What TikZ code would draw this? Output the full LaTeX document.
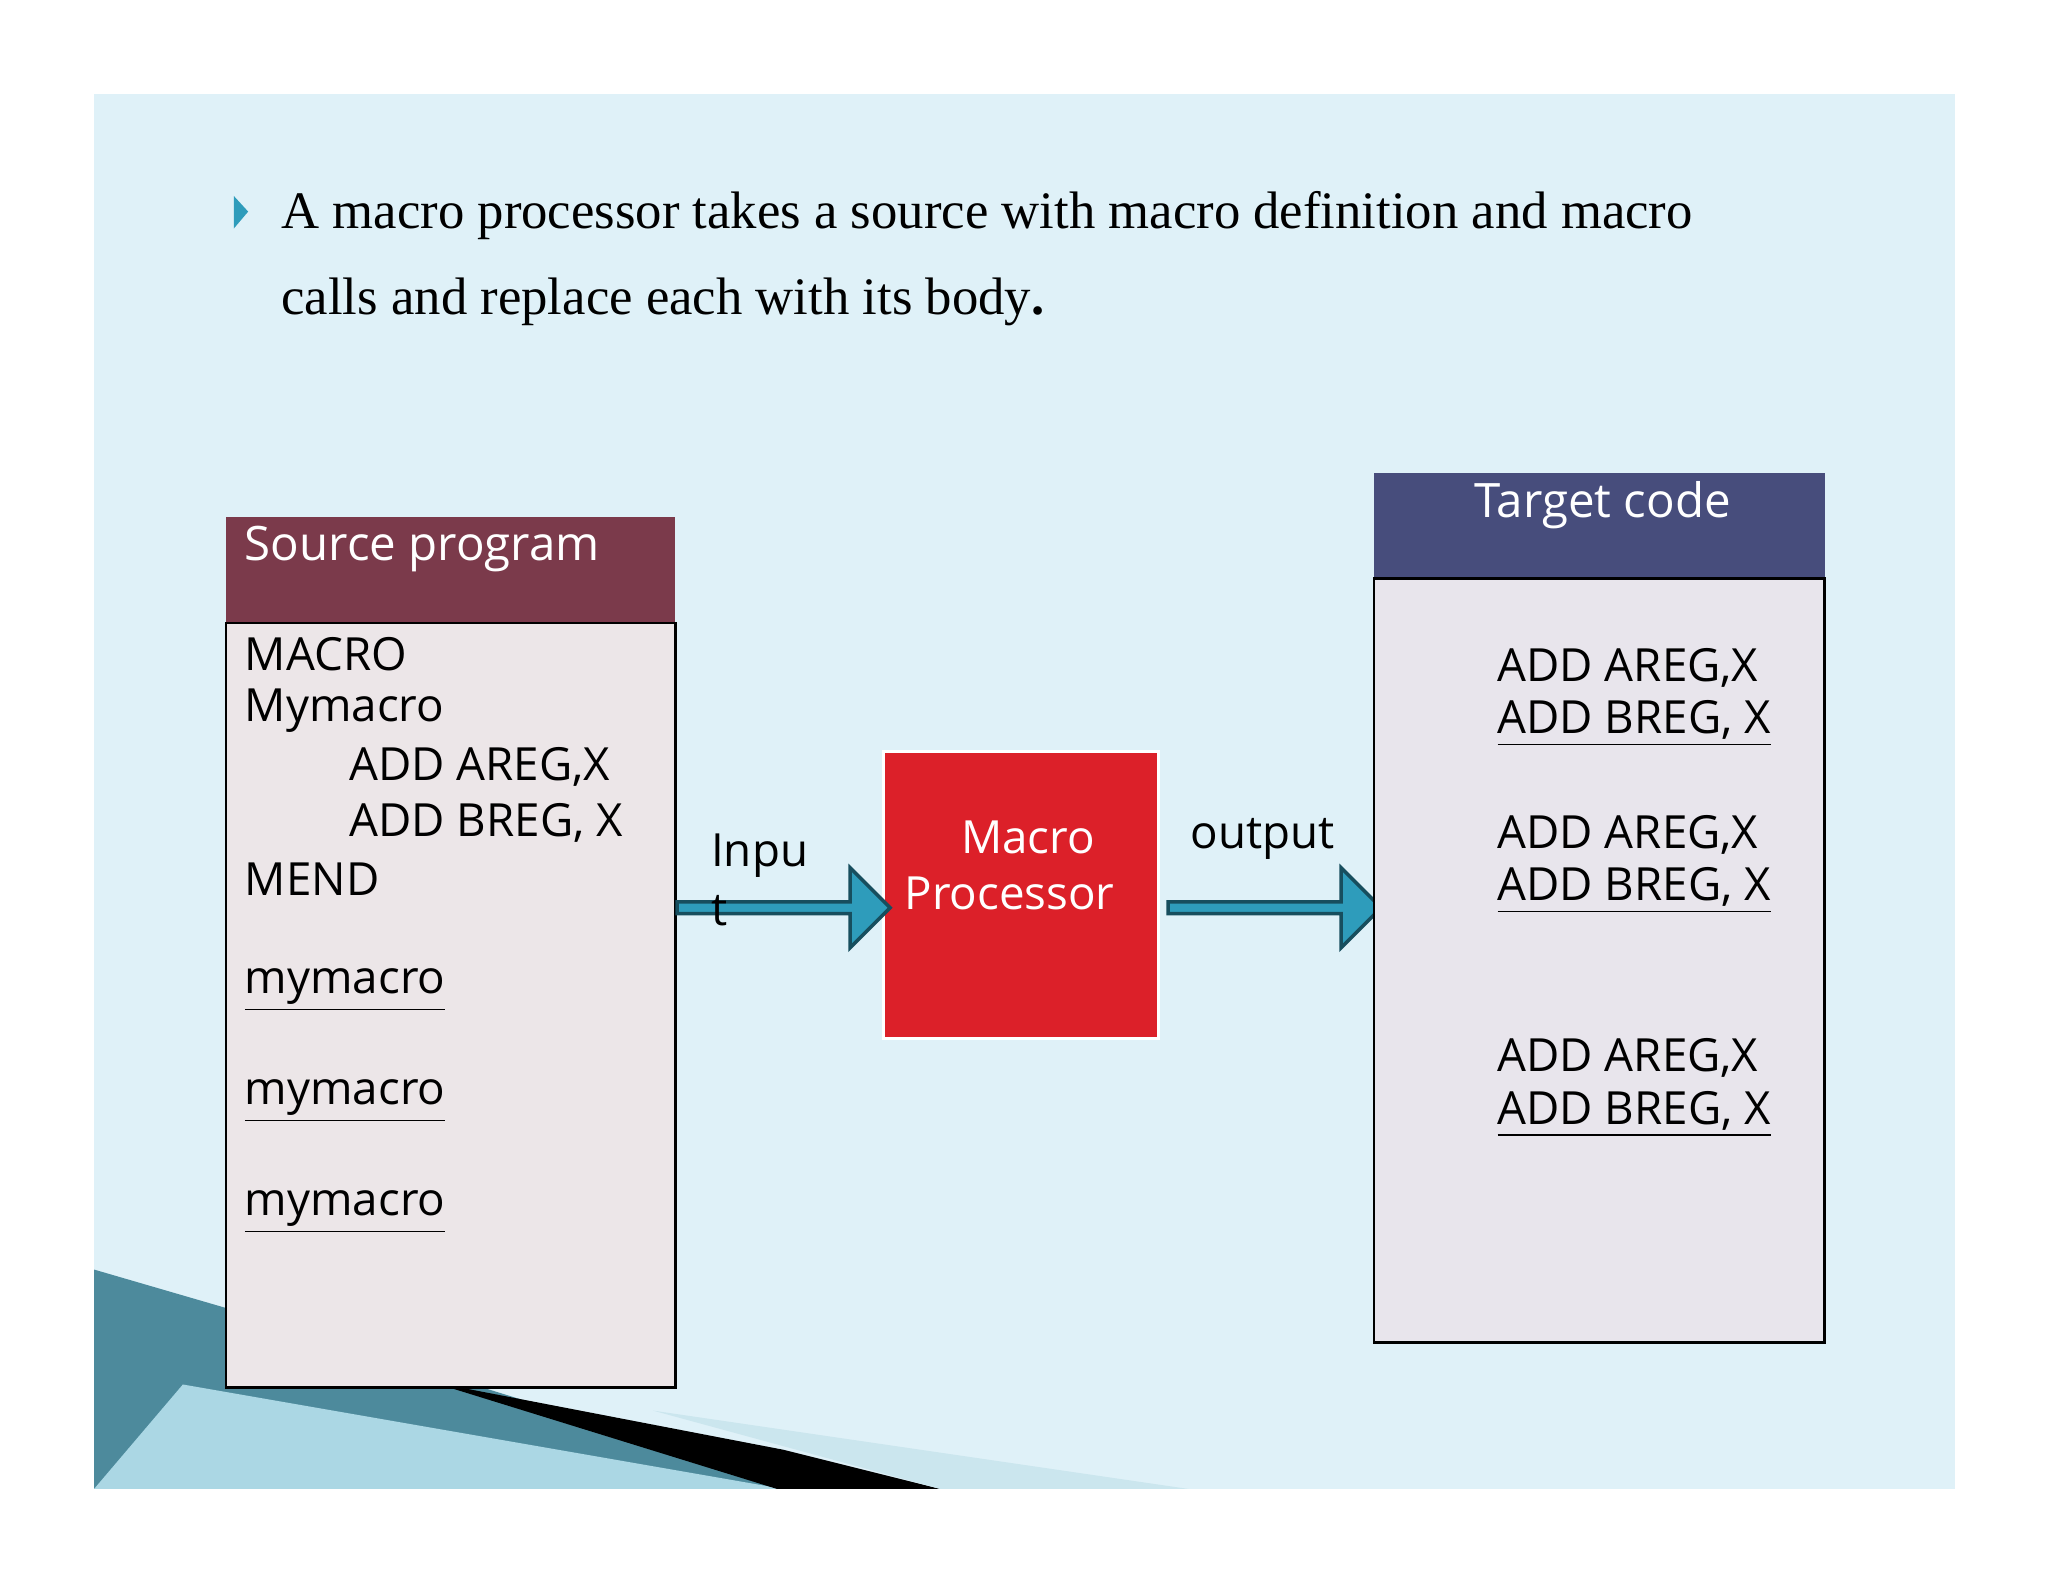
\documentclass[tikz,border=0pt]{standalone}
\usepackage{fontspec}
\setmainfont{Liberation Serif}
\newfontfamily\sansf{Open Sans}
\usetikzlibrary{shapes.arrows}
\definecolor{slidebg}{HTML}{DFF1F8}
\definecolor{teal}{HTML}{2E9CBB}
\definecolor{srchead}{HTML}{7B3A4B}
\definecolor{srcbody}{HTML}{ECE6E8}
\definecolor{tgthead}{HTML}{474D7C}
\definecolor{tgtbody}{HTML}{E8E5EC}
\definecolor{procred}{HTML}{DC2029}
\tikzset{
  code/.style={font=\sansf\fontsize{13}{13}\selectfont, anchor=west, inner sep=0pt},
  head/.style={font=\sansf\fontsize{13.5}{13.5}\selectfont, text=white, inner sep=0pt},
  blockarrow/.style={single arrow, draw=teal!50!black, fill=teal, minimum height=2.13cm,
    minimum width=0.8cm, single arrow head extend=0.1cm, inner sep=0pt, line width=1pt}
}
\begin{document}
\begin{tikzpicture}[x=0.01306cm, y=-0.01306cm]
\useasboundingbox (0,0) rectangle (1568,1211);
\fill[white] (0,0) rectangle (1568,1211);
% slide background
\fill[slidebg] (72,72) rectangle (1497,1140);
\fill[teal!70!black!80] (72,972) -- (175,1002) -- (620,1140) -- (72,1140) -- cycle;
\fill[teal!40] (72,1140) -- (140,1060) -- (600,1140) -- cycle;
\fill[black] (330,1058) -- (600,1110) -- (720,1140) -- (595,1140) -- cycle;
\fill[teal!25] (500,1080) -- (910,1140) -- (720,1140) -- cycle;
% bullet
\fill[teal] (179,150) -- (190,162) -- (179,175) -- cycle;
\node[anchor=base west, inner sep=0pt, font=\fontsize{15}{15}\selectfont] (l1) at (215,175)
  {A macro processor takes a source with macro definition and macro};
\node[anchor=base west, inner sep=0pt, font=\fontsize{15}{15}\selectfont] (l2) at (215,241)
  {calls and replace each with its body\textbf{.}};
% source program
\fill[srchead] (173,396) rectangle (517,477);
\node[head, anchor=west] (srch) at (187,420) {Source program};
\filldraw[fill=srcbody, draw=black, line width=0.8pt] (173,477) rectangle (517,1062);
\coordinate (srcE) at (517,695);
\node[code] (s1) at (187,501) {MACRO};
\node[code] (s2) at (187,544) {Mymacro};
\node[code] (s3) at (267,587) {ADD AREG,X};
\node[code] (s4) at (267,630) {ADD BREG, X};
\node[code] (s5) at (187,673) {MEND};
\node[code] (s6) at (187,758) {\underline{mymacro}};
\node[code] (s7) at (187,843) {\underline{mymacro}};
\node[code] (s8) at (187,928) {\underline{mymacro}};
% processor
\node[fill=procred, draw=white, line width=1pt, minimum width=2.75cm, minimum height=2.87cm,
  anchor=north west] (proc) at (675,574) {};
\node[code, anchor=center, text=white] (pm1) at (787,641) {Macro};
\node[code, anchor=center, text=white] (pm2) at (773,684) {Processor};
% arrows
\node[blockarrow, anchor=tail] (ain) at (srcE) {};
\node[code] (in1) at (544,655) {Inpu};
\node[code] (in2) at (544,697) {t};
\node[blockarrow, anchor=tail] (aout) at (893,695) {};
\node[code] (out) at (911,642) {output};
% target
\fill[tgthead] (1052,362) rectangle (1397,443);
\node[head] (tgth) at (1227,387) {Target code};
\filldraw[fill=tgtbody, draw=black, line width=0.8pt] (1052,443) rectangle (1397,1028);
\node[code] (t1) at (1146,511) {ADD AREG,X};
\node[code] (t2) at (1146,554) {\underline{ADD BREG, X}};
\node[code] (t3) at (1146,639) {ADD AREG,X};
\node[code] (t4) at (1146,682) {\underline{ADD BREG, X}};
\node[code] (t5) at (1146,810) {ADD AREG,X};
\node[code] (t6) at (1146,853) {\underline{ADD BREG, X}};
\end{tikzpicture}
\end{document}
